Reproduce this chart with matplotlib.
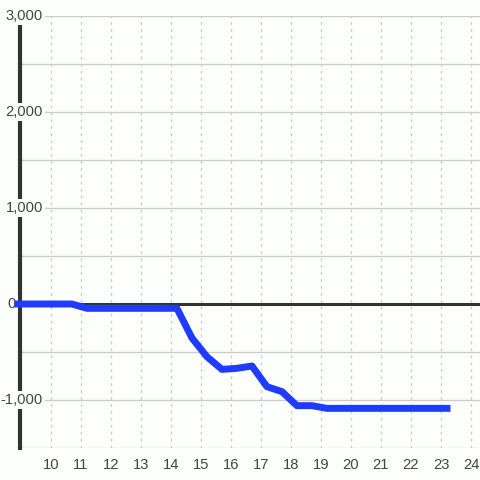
import matplotlib
matplotlib.use("Agg")
import matplotlib.pyplot as plt
import matplotlib.transforms as mtransforms
from matplotlib.ticker import MultipleLocator

plt.rcParams['font.family'] = ['Liberation Sans', 'DejaVu Sans']

hours = [8.9, 9.2, 9.7, 10.2, 10.7, 11.2, 11.7, 12.2, 12.7, 13.2, 13.7, 14.2, 14.7,
         15.2, 15.7, 16.2, 16.7, 17.2, 17.7, 18.2, 18.7, 19.2, 19.7, 20.2, 20.7,
         21.2, 21.7, 22.2, 22.7, 23.2]
values = [0, 0, 0, 0, 0, -45, -45, -45, -45, -45, -45, -45, -354,
          -549, -681, -670, -646, -861, -913, -1059, -1059, -1087, -1087, -1087, -1087,
          -1087, -1087, -1087, -1087, -1087]
x_ticks = list(range(10, 25))
y_ticks = [-1000, 0, 1000, 2000, 3000]

bg = '#fdfffd'
fig = plt.figure(figsize=(4.8, 4.8), dpi=100)
fig.patch.set_facecolor(bg)
ax = fig.add_axes([20/480, 32/480, 460/480, 432/480])
ax.set_facecolor(bg)

ax.set_xlim(8.97, 24.3)
ax.set_ylim(-1500, 3000)

ax.yaxis.set_major_locator(MultipleLocator(500))
ax.set_xticks(x_ticks)
ax.grid(axis='y', color='#cccccc', linewidth=1, linestyle='-')
ax.grid(axis='x', color='#cccccc', linewidth=1, linestyle=(0, (2, 3)))
ax.set_axisbelow(True)

ax.axhline(0, color='#333333', linewidth=2.2, zorder=2)

for s in ['top', 'right', 'bottom']:
    ax.spines[s].set_visible(False)
ax.spines['left'].set_color('#333333')
ax.spines['left'].set_linewidth(3)
ax.spines['left'].set_zorder(2.1)

ax.plot(hours, values, color='#1f3bff', linewidth=5, zorder=4, clip_on=False)

ax.tick_params(axis='both', length=0, labelsize=10.6, colors='#444444')
ax.tick_params(axis='x', pad=7)
ax.set_yticklabels([])

trans = mtransforms.blended_transform_factory(fig.transFigure, ax.transData)
for v in y_ticks:
    right_px = 16 if v == 0 else 43
    ax.text(right_px/480, v, f"{v:,}", transform=trans, ha='right', va='center',
            fontsize=10.6, color='#444444', zorder=3, clip_on=False,
            bbox=dict(facecolor=bg, edgecolor='none', pad=1.5))

fig.savefig('out.png', dpi=100, facecolor=fig.get_facecolor())
